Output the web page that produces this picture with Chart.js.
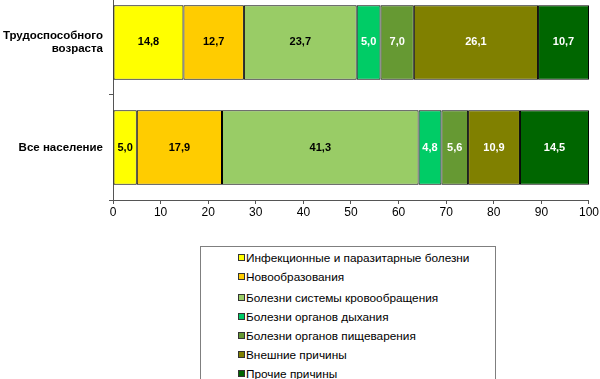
<!DOCTYPE html>
<html><head><meta charset="utf-8">
<script src="https://cdn.jsdelivr.net/npm/chart.js@4"></script>
<style>
html,body{margin:0;padding:0;background:#fff;width:600px;height:379px;overflow:hidden;position:relative;font-family:"Liberation Sans",Arial,sans-serif;}
#wrap{position:absolute;left:0;top:-23px;width:600px;height:246px;}
#legend{position:absolute;left:200px;top:246px;width:296px;height:150px;border:1px solid #7f7f7f;box-sizing:border-box;}
.item{position:absolute;left:37px;height:16px;line-height:16px;font-size:11.8px;color:#000;white-space:nowrap;}
.mk{display:inline-block;width:5px;height:5px;border:1px solid #333;margin-right:1px;vertical-align:1px;}
</style></head>
<body>
<div id="wrap"><canvas id="c" width="600" height="246"></canvas></div>
<div id="legend"></div>
<script>
const categories = ["Трудоспособного\nвозраста", "Все население"];
const seriesNames = ["Инфекционные и паразитарные болезни","Новообразования","Болезни системы кровообращения","Болезни органов дыхания","Болезни органов пищеварения","Внешние причины","Прочие причины"];
const infectious = [14.8, 5.0];
const neoplasms = [12.7, 17.9];
const circulatory = [23.7, 41.3];
const respiratory = [5.0, 4.8];
const digestive = [7.0, 5.6];
const external = [26.1, 10.9];
const other = [10.7, 14.5];
const xTicks = [0,10,20,30,40,50,60,70,80,90,100];
const colors = ["#ffff00","#ffcc00","#99cc66","#00cc66","#669933","#808000","#006600"];
const labelColors = ["#000","#000","#000","#fff","#fff","#fff","#fff"];

const seriesValues = [infectious, neoplasms, circulatory, respiratory, digestive, external, other];
const datasets = seriesValues.map((v,i)=>({
  label: seriesNames[i], data: v, backgroundColor: colors[i],
  borderColor: "#000", borderWidth: 1, borderSkipped: false,
  barPercentage: 0.71, categoryPercentage: 1.0
}));

const labelPlugin = {
  id: "vals",
  afterDatasetsDraw(chart){
    const ctx = chart.ctx;
    ctx.save();
    ctx.font = "bold 11px 'Liberation Sans', Arial, sans-serif";
    ctx.textAlign = "center"; ctx.textBaseline = "middle";
    chart.data.datasets.forEach((ds,i)=>{
      chart.getDatasetMeta(i).data.forEach((bar,j)=>{
        const p = bar.getProps(["x","y","base"], true);
        ctx.fillStyle = labelColors[i];
        ctx.fillText(ds.data[j].toFixed(1).replace(".", ","), (p.x+p.base)/2, p.y);
      });
    });
    ctx.restore();
  }
};

new Chart(document.getElementById("c"), {
  type: "bar",
  data: { labels: categories.map(c=>c.split("\n")), datasets },
  options: {
    indexAxis: "y", responsive: false, animation: false,
    layout: { padding: { right: 11, top: 0 } },
    plugins: { legend: { display: false }, tooltip: { enabled: false } },
    scales: {
      x: {
        stacked: true, min: 0, max: 100,
        afterBuildTicks(s){ s.ticks = xTicks.map(v=>({value:v})); },
        grid: { display: true, drawOnChartArea: false, drawTicks: true, tickLength: 4, color: "#555" },
        border: { display: true, color: "#555", width: 1 },
        ticks: { color: "#000", font: { family: "'Liberation Sans', Arial", size: 12 }, padding: 1, maxRotation: 0 },
        afterFit(s){ s.height = 23; }
      },
      y: {
        stacked: true,
        grid: { display: true, drawOnChartArea: false, drawTicks: true, tickLength: 4, offset: true, color: "#555" },
        border: { display: true, color: "#555", width: 1 },
        ticks: { color: "#000", font: { family: "'Liberation Sans', Arial", size: 11.5, weight: "bold" }, padding: 6, lineHeight: 1.3 },
        afterFit(s){ s.width = 113; }
      }
    }
  },
  plugins: [labelPlugin]
});

const legend = document.getElementById("legend");
const ys = [3, 22, 43, 62, 81, 100, 119];
seriesNames.forEach((n,i)=>{
  const d = document.createElement("div");
  d.className = "item"; d.style.top = ys[i] + "px";
  const m = document.createElement("span"); m.className = "mk"; m.style.background = colors[i];
  d.appendChild(m); d.appendChild(document.createTextNode(n));
  legend.appendChild(d);
});
</script>
</body></html>
